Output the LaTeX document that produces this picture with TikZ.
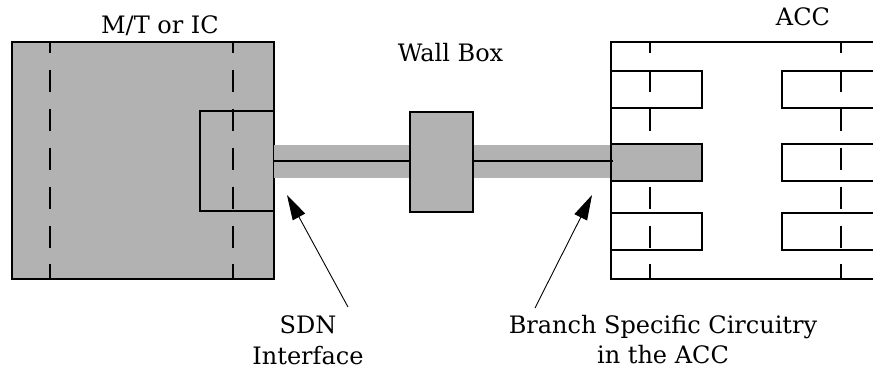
\documentclass[tikz,border=0pt]{standalone}
\usepackage{fontspec}
\setmainfont{DejaVu Serif}
\usetikzlibrary{arrows.meta}
\definecolor{boxgray}{gray}{0.70}
\begin{document}
\begin{tikzpicture}[x=1pt,y=-1pt,
  boxshape/.style={rectangle,inner sep=0pt,outer sep=0pt,draw=black,line width=1.4pt},
  dashline/.style={line width=1.4pt,dash pattern=on 22pt off 16.9pt,dash phase=11pt},
  cable/.style={line width=33pt,draw=boxgray},
  wire/.style={line width=1.4pt},
  lbl/.style={font=\fontsize{24}{29}\selectfont,inner sep=0pt,anchor=base},
  pointer/.style={line width=0.9pt,-{Triangle[length=25pt,width=14pt]}}]
\useasboundingbox (0,0) rectangle (873,373);

% M/T or IC box
\node[boxshape,fill=boxgray,minimum width=262pt,minimum height=237pt] (mt) at (143,160.5) {};
\draw[dashline] (50,42) -- (50,279);
\draw[dashline] (233,42) -- (233,279);
\node[boxshape,minimum width=74pt,minimum height=100pt] (iface) at (237,161) {};
\draw[line width=1.4pt] (mt.north west) rectangle (mt.south east);

% cable
\coordinate (accin) at (611,161);
\coordinate (wallin) at (413,161);
\coordinate (wallout) at (473,161);
\draw[cable] (iface.east) -- (accin);
\draw[wire] (iface.east) -- (wallin);
\draw[wire] (wallout) -- ([xshift=1pt]accin);

% wall box
\node[boxshape,fill=boxgray,minimum width=63pt,minimum height=100pt] (wall) at (441.5,162) {};

% ACC
\node[boxshape,minimum width=263pt,minimum height=237pt] (acc) at (742.5,160.5) {};
\draw[dashline] (650,42) -- (650,279);
\draw[dashline] (841,42) -- (841,279);
\node[boxshape,minimum width=91pt,minimum height=37pt] (l1) at (656.5,89.5) {};
\node[boxshape,minimum width=91pt,minimum height=37pt] (l3) at (656.5,231.5) {};
\node[boxshape,minimum width=92pt,minimum height=37pt] (r1) at (828,89.5) {};
\node[boxshape,minimum width=92pt,minimum height=37pt] (r2) at (828,162.5) {};
\node[boxshape,minimum width=92pt,minimum height=37pt] (r3) at (828,231.5) {};
\node[boxshape,fill=boxgray,minimum width=91pt,minimum height=37pt] (branch) at (656.5,162.5) {};
\draw[wire] (accin) -- ++(2,0);

% labels
\node[lbl] (mtlbl) at (160,33) {M/T or IC};
\node[lbl] (walllbl) at (450.5,61) {Wall Box};
\node[lbl] (acclbl) at (803,25) {ACC};
\node[lbl] (sdn1) at (308,333) {SDN};
\node[lbl] (sdn2) at (308,364) {Interface};
\node[lbl] (br1) at (663,333) {Branch Specific Circuitry};
\node[lbl] (br2) at (663,363) {in the ACC};

% pointers
\coordinate (sdntail) at (348,307);
\coordinate (sdntip) at (287,195);
\coordinate (brtail) at (535,308);
\coordinate (brtip) at (592,195);
\draw[pointer] (sdntail) -- (sdntip);
\draw[pointer] (brtail) -- (brtip);
\end{tikzpicture}
\end{document}
